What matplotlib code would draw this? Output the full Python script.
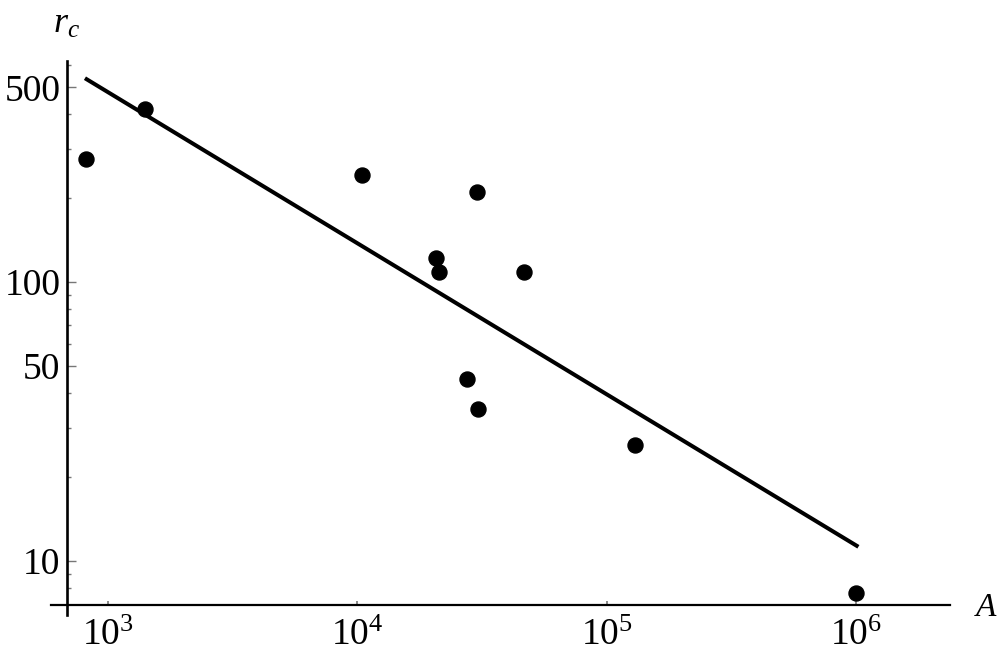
import numpy as np
import matplotlib
matplotlib.use("Agg")
import matplotlib.pyplot as plt
from matplotlib.lines import Line2D
from matplotlib.ticker import FixedLocator, NullFormatter

# Measured points (A, r_c)
A_vals = [818, 1413, 10430, 30150, 20710, 21230, 46500, 27490, 30430, 129500, 1.0e6]
rc_vals = [276, 418, 242, 210, 122.5, 108.6, 108.6, 44.9, 35.0, 26.0, 7.7]

# Power-law fit r_c = C * A^k, drawn over A_range
fit_C = 20440.0
fit_k = -0.5425
A_range = [812, 1.02e6]

x_major = [1e3, 1e4, 1e5, 1e6]
x_labels = ["$10^{3}$", "$10^{4}$", "$10^{5}$", "$10^{6}$"]
y_major = [10, 50, 100, 500]
y_minor = [8, 9, 20, 30, 40, 60, 70, 80, 90, 200, 300, 400, 600]

plt.rcParams["font.family"] = ["Liberation Serif", "DejaVu Serif"]
plt.rcParams["mathtext.fontset"] = "custom"
plt.rcParams["mathtext.rm"] = "Liberation Serif"
plt.rcParams["mathtext.it"] = "Liberation Serif:italic"

fig = plt.figure(figsize=(10, 6.58), dpi=100)
W, H = 1000, 658
ax_left, ax_right, ax_top, ax_bot = 67.3, 950, 61, 605
ax = fig.add_axes([ax_left / W, 1 - ax_bot / H, (ax_right - ax_left) / W, (ax_bot - ax_top) / H])

ax.set_xscale("log")
ax.set_yscale("log")
ax.set_xlim(690, 2.375e6)
ax.set_ylim(6.95, 622)

# fit line
xs = np.logspace(np.log10(A_range[0]), np.log10(A_range[1]), 50)
ax.plot(xs, fit_C * xs ** fit_k, color="black", lw=2.9, solid_capstyle="butt")

# data points
ax.plot(A_vals, rc_vals, "o", color="black", ms=10.8, mec="black")

# Mathematica-style axes crossing with small overhang
for s in ax.spines.values():
    s.set_visible(False)
ax.add_line(Line2D([-(ax_left - 50.7) / (ax_right - ax_left), 1], [0, 0], transform=ax.transAxes,
                   color="black", lw=1.6, clip_on=False))
ax.add_line(Line2D([0, 0], [-(615 - ax_bot) / (ax_bot - ax_top), 1], transform=ax.transAxes,
                   color="black", lw=1.9, clip_on=False))

ax.xaxis.set_major_locator(FixedLocator(x_major))
ax.set_xticklabels(x_labels)
ax.xaxis.set_minor_locator(FixedLocator([]))
ax.yaxis.set_major_locator(FixedLocator(y_major))
ax.set_yticklabels([str(v) for v in y_major])
ax.yaxis.set_minor_locator(FixedLocator(y_minor))
ax.yaxis.set_minor_formatter(NullFormatter())

ax.tick_params(axis="x", which="major", direction="in", length=3, width=1.2, color="#777777",
               labelsize=27, pad=10)
ax.tick_params(axis="y", which="major", direction="in", length=6.5, width=1.0, color="#777777",
               labelsize=27, pad=5)
ax.tick_params(axis="y", which="minor", direction="in", length=3.2, width=1.0, color="#777777")

fig.text(53 / W, 1 - 33 / H, "$r_c$", fontsize=26, ha="left", va="baseline")
fig.text(974 / W, 1 - 615.5 / H, "$A$", fontsize=24, ha="left", va="baseline")

fig.savefig("out.png", dpi=100, facecolor="white")
